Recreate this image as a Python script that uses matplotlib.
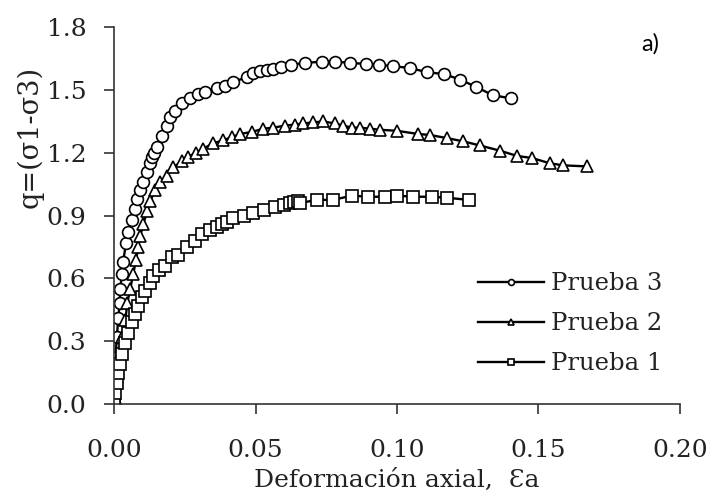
import matplotlib
matplotlib.use("Agg")
from matplotlib import pyplot as plt

# Prueba 3 (circles)
p3_x = [0.0, 0.0, 0.0002, 0.0004, 0.001, 0.0014, 0.002, 0.0021, 0.0028, 0.0032,
        0.0042, 0.005, 0.0064, 0.0074, 0.008, 0.0092, 0.0103, 0.0117, 0.0127, 0.0134,
        0.0141, 0.0152, 0.017, 0.0187, 0.0198, 0.0216, 0.024, 0.0269, 0.0297, 0.0322,
        0.0364, 0.0392, 0.042, 0.047, 0.049, 0.0516, 0.054, 0.056, 0.059, 0.0625,
        0.0675, 0.0735, 0.078, 0.0835, 0.089, 0.0936, 0.0986, 0.1046, 0.1106, 0.1166,
        0.1223, 0.1279, 0.1339, 0.1403]
p3_y = [0.0, 0.03, 0.13, 0.22, 0.32, 0.41, 0.48, 0.55, 0.62, 0.68,
        0.77, 0.82, 0.88, 0.93, 0.98, 1.02, 1.06, 1.11, 1.15, 1.18,
        1.20, 1.23, 1.28, 1.33, 1.37, 1.40, 1.44, 1.46, 1.48, 1.49,
        1.51, 1.52, 1.54, 1.56, 1.58, 1.59, 1.595, 1.60, 1.61, 1.62,
        1.63, 1.635, 1.635, 1.63, 1.624, 1.62, 1.614, 1.605, 1.585, 1.576,
        1.55, 1.515, 1.475, 1.46]

# Prueba 2 (triangles)
p2_x = [0.0, 0.0004, 0.001, 0.0014, 0.0027, 0.004, 0.0046, 0.0057, 0.0067, 0.0078,
        0.0085, 0.0092, 0.0103, 0.0117, 0.0127, 0.0145, 0.0163, 0.0187, 0.0209, 0.024,
        0.026, 0.029, 0.0315, 0.035, 0.0385, 0.0417, 0.0445, 0.0488, 0.0527, 0.0562,
        0.0604, 0.064, 0.0668, 0.0703, 0.0739, 0.078, 0.081, 0.084, 0.087, 0.0905,
        0.094, 0.100, 0.1074, 0.1117, 0.1177, 0.1233, 0.1293, 0.1364, 0.1424, 0.1477,
        0.154, 0.1587, 0.167]
p2_y = [0.0, 0.03, 0.13, 0.22, 0.32, 0.40, 0.48, 0.55, 0.62, 0.69,
        0.75, 0.80, 0.86, 0.92, 0.97, 1.02, 1.06, 1.09, 1.13, 1.16,
        1.18, 1.20, 1.22, 1.245, 1.26, 1.275, 1.29, 1.30, 1.315, 1.32,
        1.33, 1.335, 1.34, 1.345, 1.35, 1.34, 1.33, 1.32, 1.32, 1.315,
        1.31, 1.305, 1.29, 1.285, 1.27, 1.255, 1.235, 1.21, 1.185, 1.175,
        1.15, 1.14, 1.135]

# Prueba 1 (squares)
p1_x = [0.0, 0.0, 0.0004, 0.001, 0.0015, 0.002, 0.0028, 0.0039, 0.005, 0.0064,
        0.0074, 0.0085, 0.0099, 0.011, 0.0127, 0.0138, 0.016, 0.018, 0.0205, 0.0226,
        0.0258, 0.0286, 0.031, 0.034, 0.0364, 0.038, 0.040, 0.042, 0.046, 0.049,
        0.053, 0.057, 0.060, 0.062, 0.0635, 0.065, 0.0657, 0.0717, 0.0774, 0.084,
        0.0898, 0.0958, 0.100, 0.1057, 0.1124, 0.1177, 0.1254]
p1_y = [0.0, 0.005, 0.05, 0.10, 0.15, 0.19, 0.24, 0.29, 0.34, 0.39,
        0.43, 0.47, 0.51, 0.54, 0.58, 0.61, 0.64, 0.66, 0.70, 0.71,
        0.75, 0.78, 0.81, 0.83, 0.845, 0.86, 0.87, 0.89, 0.90, 0.91,
        0.925, 0.94, 0.95, 0.96, 0.965, 0.97, 0.96, 0.975, 0.975, 0.995,
        0.99, 0.99, 0.995, 0.99, 0.99, 0.985, 0.975]

labels = ["Prueba 3", "Prueba 2", "Prueba 1"]
x_ticks = [0.00, 0.05, 0.10, 0.15, 0.20]
y_ticks = [0.0, 0.3, 0.6, 0.9, 1.2, 1.5, 1.8]

plt.rcParams['font.family'] = ["DejaVu Serif"]

fig = plt.figure(figsize=(7.09, 4.95), dpi=100)
ax = fig.add_axes([0.161, 0.184, 0.798, 0.761])

style = dict(color='black', lw=1.7, mfc='white', mec='black', mew=1.2, ms=8.5)
ax.plot(p3_x, p3_y, marker='o', label=labels[0], **style)
ax.plot(p2_x, p2_y, marker='^', label=labels[1], **style)
ax.plot(p1_x, p1_y, marker='s', label=labels[2], **style)

ax.set_xlim(0, 0.20)
ax.set_ylim(0, 1.8)
ax.set_xticks(x_ticks)
ax.set_xticklabels(["%.2f" % v for v in x_ticks])
ax.set_yticks(y_ticks)
ax.set_yticklabels(["%.1f" % v for v in y_ticks])
ax.tick_params(direction='out', length=7, width=1.2, labelsize=18,
               color='#333333', labelcolor='#222222')
ax.tick_params(axis='x', pad=18)
ax.tick_params(axis='y', pad=13)
for s in ['top', 'right']:
    ax.spines[s].set_visible(False)
for s in ['left', 'bottom']:
    ax.spines[s].set_color('#333333')
    ax.spines[s].set_linewidth(1.2)

ax.set_xlabel("Deformación axial,  Ɛa", fontsize=18, labelpad=5, color='#222222')
ax.set_ylabel("q=(σ1-σ3)", fontsize=19.5, color='#222222')
ax.yaxis.set_label_coords(-0.124, 0.71)

ax.text(0.947, 0.957, "a)", transform=ax.transAxes, fontsize=17,
        family=["Lato", "DejaVu Sans"], ha='center', va='center')

leg = ax.legend(loc='center', bbox_to_anchor=(0.806, 0.213), frameon=False,
                fontsize=17.5, handlelength=2.7, markerscale=0.5, labelspacing=0.7,
                handletextpad=0.3)
for t in leg.get_texts():
    t.set_color('#222222')

fig.savefig("out.png", dpi=100)
